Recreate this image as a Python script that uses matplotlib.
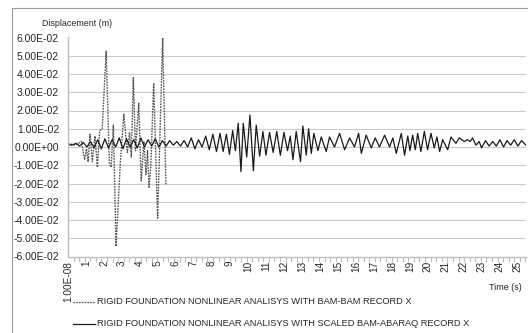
"""
Rigid foundation nonlinear analysis: displacement time history,
BAM-BAM record X vs scaled BAM-ABARAQ record X.
"""
import matplotlib
matplotlib.use('Agg')
import matplotlib.pyplot as plt
import numpy as np
from matplotlib.lines import Line2D
from matplotlib.patches import Rectangle
from matplotlib.ticker import MultipleLocator

plt.rcParams['font.family'] = ['Liberation Sans', 'DejaVu Sans']

W, H = 528, 333  # output size in pixels

# displacement values, in units of 1e-2 m
BAM_T = [0.0, 0.4, 0.75, 0.92, 1.03, 1.12, 1.22, 1.35, 1.5, 1.63, 1.76, 1.9,
         2.12, 2.3, 2.4, 2.52, 2.67, 2.9, 3.1, 3.3, 3.42, 3.52, 3.63, 3.75,
         3.93, 4.07, 4.22, 4.33, 4.42, 4.5, 4.6, 4.76, 4.98, 5.26, 5.44]
BAM_V = [0.2, 0.1, 0.3, -0.7, -0.1, -0.8, 0.7, -0.8, 0.6, -1.1, 0.9, 1.0,
         5.25, -0.9, -1.1, 1.2, -5.45, -1.0, 1.8, -0.3, 0.8, -0.55, 3.8, -0.2,
         2.4, -1.85, 0.3, -1.5, -0.2, -2.2, -1.1, 3.5, -3.9, 5.95, -2.1]

ABARAQ_T = [0.0, 0.2, 0.45, 0.65, 0.85, 1.05, 1.25, 1.45, 1.65, 1.85, 2.05, 2.25,
            2.45, 2.65, 2.85, 3.05, 3.25, 3.45, 3.65, 3.85, 4.05, 4.25, 4.45, 4.65,
            4.85, 5.05, 5.25, 5.45, 5.65, 5.85, 6.05, 6.25, 6.45, 6.65, 6.85, 7.05,
            7.25, 7.45, 7.65, 7.85, 8.05, 8.25, 8.45, 8.62, 8.8, 8.97, 9.15, 9.3,
            9.46, 9.61, 9.74, 9.93, 10.11, 10.3, 10.46, 10.65, 10.83, 11.0, 11.2, 11.4,
            11.6, 11.8, 12.0, 12.2, 12.35, 12.5, 12.68, 12.92, 13.05, 13.24, 13.37, 13.52,
            13.66, 13.89, 14.07, 14.35, 14.53, 14.81, 15.09, 15.37, 15.65, 15.92, 16.15, 16.3,
            16.57, 16.85, 17.07, 17.31, 17.59, 17.87, 18.05, 18.24, 18.52, 18.7, 18.88, 19.0,
            19.15, 19.3, 19.43, 19.61, 19.8, 19.98, 20.17, 20.35, 20.5, 20.65, 20.82, 21.1,
            21.28, 21.56, 21.74, 22.02, 22.2, 22.35, 22.48, 22.67, 22.85, 22.98, 23.2, 23.4,
            23.6, 23.8, 24.0, 24.2, 24.4, 24.6, 24.8, 25.0, 25.2, 25.45]
ABARAQ_V = [0.15, 0.1, 0.2, 0.05, 0.25, 0.0, 0.3, -0.05, 0.4, -0.1, 0.45, -0.05,
            0.4, 0.0, 0.5, -0.1, 0.45, 0.0, 0.4, -0.05, 0.5, 0.0, 0.4, 0.05,
            0.45, 0.0, 0.35, 0.05, 0.35, 0.1, 0.3, 0.05, 0.35, 0.0, 0.5, -0.1,
            0.4, 0.0, 0.6, -0.15, 0.7, -0.25, 0.75, -0.25, 0.7, -0.4, 0.9, -0.2,
            1.3, -1.35, 1.3, -0.55, 1.75, -1.3, 1.2, -0.5, 0.85, -0.45, 0.8, -0.3,
            0.85, -0.45, 0.8, -0.2, 0.6, -0.7, 0.85, -0.8, 1.15, -0.45, 1.0, -0.35,
            0.75, -0.2, 0.55, -0.25, 0.55, 0.0, 0.75, -0.15, 0.5, 0.0, 0.75, -0.35,
            0.65, -0.05, 0.5, 0.0, 0.65, 0.0, 0.5, -0.35, 0.75, -0.45, 0.6, -0.2,
            0.65, -0.15, 0.75, -0.25, 0.85, -0.15, 0.75, -0.05, 0.55, -0.25, 0.4, -0.15,
            0.55, 0.2, 0.5, 0.3, 0.4, 0.3, 0.5, 0.1, 0.3, -0.05, 0.35, 0.05,
            0.3, 0.05, 0.4, 0.0, 0.35, 0.1, 0.4, 0.05, 0.35, 0.1]

Y_TICKS = [0.06, 0.05, 0.04, 0.03, 0.02, 0.01, 0.0,
           -0.01, -0.02, -0.03, -0.04, -0.05, -0.06]
X_TICKS = list(range(26))
X_LABELS = ['1.00E-08'] + [str(i) for i in range(1, 26)]
LEGEND_LABELS = ['RIGID FOUNDATION NONLINEAR ANALISYS WITH BAM-BAM RECORD X',
                 'RIGID FOUNDATION NONLINEAR ANALISYS WITH SCALED BAM-ABARAQ RECORD X']

TEXT_COLOR = '#262626'
AXIS_COLOR = '#bfbfbf'
BAM_STYLE = dict(color='#555555', lw=1.0, ls=(0, (1.2, 0.8)))
ABARAQ_STYLE = dict(color='#1a1a1a', lw=0.9, ls='-')


def fx(px):
    return px / W


def fy(py):
    return 1 - py / H


def main():
    fig = plt.figure(figsize=(W / 100, H / 100), dpi=100)
    ax = fig.add_axes([fx(68), fy(256.5), fx(526) - fx(68), fy(37.5) - fy(256.5)])

    ax.plot(BAM_T, np.array(BAM_V) * 1e-2, **BAM_STYLE)
    ax.plot(ABARAQ_T, np.array(ABARAQ_V) * 1e-2, **ABARAQ_STYLE)

    ax.set_xlim(0, 25.45)
    ax.set_ylim(-0.06, 0.06)

    # y axis: Excel-like scientific labels, grid, no ticks
    ax.set_yticks(Y_TICKS)
    ax.set_yticklabels([f'{v:.2E}' for v in Y_TICKS])
    ax.yaxis.grid(True, color='#cccccc', lw=0.8)
    ax.set_axisbelow(True)
    ax.tick_params(axis='y', length=0, pad=6.5, labelsize=7.5, labelcolor=TEXT_COLOR)

    # x axis: one label per second, small tick marks in between
    ax.set_xticks(X_TICKS)
    ax.set_xticklabels(X_LABELS, rotation=90)
    ax.tick_params(axis='x', which='major', length=0, pad=3, labelsize=7.2,
                   labelcolor=TEXT_COLOR)
    ax.xaxis.set_minor_locator(MultipleLocator(0.31))
    ax.tick_params(axis='x', which='minor', length=3.5, width=0.8, color=AXIS_COLOR)

    for side in ('top', 'right'):
        ax.spines[side].set_visible(False)
    for side in ('left', 'bottom'):
        ax.spines[side].set_color(AXIS_COLOR)
        ax.spines[side].set_linewidth(1.0)

    fig.text(fx(42), fy(24), 'Displacement (m)', fontsize=6.4, va='center',
             color=TEXT_COLOR)
    fig.text(fx(522), fy(287), 'Time (s)', fontsize=6.5, ha='right', va='center',
             color=TEXT_COLOR)

    # legend below the plot
    for row_y, label, style in zip((301.7, 324), LEGEND_LABELS, (BAM_STYLE, ABARAQ_STYLE)):
        fig.add_artist(Line2D([fx(73), fx(95)], [fy(row_y), fy(row_y)], **style))
        fig.text(fx(97), fy(row_y), label, fontsize=6.7, va='center', color=TEXT_COLOR)

    # chart area border
    fig.add_artist(Rectangle((fx(12), -0.5), 2, fy(8) + 0.5, transform=fig.transFigure,
                             fill=False, ec='#9a9a9a', lw=0.8))

    fig.savefig('out.png', dpi=100)


if __name__ == '__main__':
    main()
